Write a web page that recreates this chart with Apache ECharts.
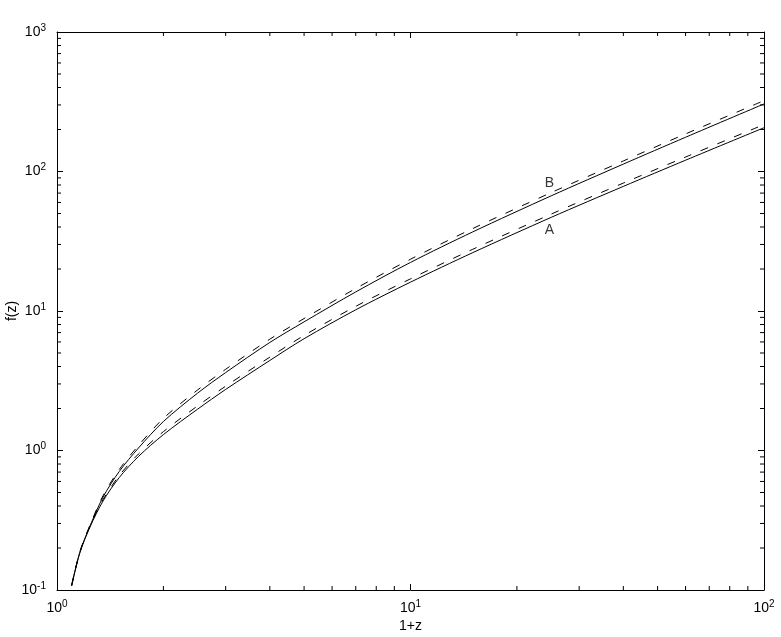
<!DOCTYPE html>
<html>
<head>
<meta charset="utf-8">
<script src="https://cdn.jsdelivr.net/npm/echarts@6/dist/echarts.min.js"></script>
<style>
  html, body { margin: 0; padding: 0; background: #fff; }
  #chart { width: 781px; height: 637px; }
</style>
</head>
<body>
<div id="chart"></div>
<script>
// 1+z sample points
const onePlusZ = [1.1, 1.16, 1.24, 1.35, 1.5, 1.7, 2.0, 2.5, 3.0, 4.0, 5.0, 7.0, 10, 15, 25, 40, 60, 100]

// f(z)
const aSolid  = [0.107, 0.184, 0.283, 0.435, 0.640, 0.906, 1.30, 1.98, 2.74, 4.42, 6.33, 10.2, 16.1, 26.2, 46.9, 78.2, 120.5, 206]
const aDashed = [0.107, 0.186, 0.288, 0.445, 0.662, 0.944, 1.366, 2.09, 2.89, 4.67, 6.68, 10.8, 17.0, 27.7, 49.5, 82.6, 127, 217]
const bSolid  = [0.108, 0.186, 0.288, 0.464, 0.707, 1.042, 1.614, 2.58, 3.62, 5.95, 8.36, 13.7, 22.3, 36.9, 66.9, 113, 176, 305]
const bDashed = [0.108, 0.187, 0.292, 0.475, 0.731, 1.086, 1.70, 2.72, 3.82, 6.28, 8.83, 14.5, 23.5, 39.0, 70.6, 119, 186, 322]

// curve labels
const curveNames = ['A', 'B']
const curveLabelX = [24.7, 24.7]
const curveLabelY = [38, 83]

// axis ranges and minor tick mantissas
const xDecades = [1, 10]
const yDecades = [0.1, 1, 10, 100]
const mantissas = [2, 3, 4, 5, 6, 7, 8, 9]

const xMinor = []
xDecades.forEach(d => mantissas.forEach(m => xMinor.push(d * m)))
const yMinor = []
yDecades.forEach(d => mantissas.forEach(m => yMinor.push(+(d * m).toPrecision(3))))

const FONT = '"Liberation Sans", Arial, Helvetica, sans-serif'

const pow10Label = v => '{b|10}{s|' + Math.round(Math.log10(v)) + '}'
const labelRich = {
    b: { fontSize: 14, fontFamily: FONT, color: '#000', lineHeight: 18 },
    s: { fontSize: 10, fontFamily: FONT, color: '#000', verticalAlign: 'top', lineHeight: 18, padding: [0, 0, 8, 0] }
}

const pair = (xs, ys) => xs.map((x, i) => [x, ys[i]])

const axisLine = { show: true, onZero: false, lineStyle: { color: '#000', width: 1 } }
const majorTick = { show: true, inside: true, length: 6, lineStyle: { color: '#000', width: 1 } }

const chart = echarts.init(document.getElementById('chart'))

const tickGroup = (lines) => ({
    type: 'group',
    children: lines.map(l => ({
        type: 'line',
        shape: l,
        style: { stroke: '#000', lineWidth: 1 }
    }))
})

const lineSeries = (name, data, dashed) => ({
    name: name,
    type: 'line',
    data: data,
    showSymbol: false,
    smooth: 0.3,
    silent: true,
    lineStyle: { color: '#000', width: 1, type: dashed ? [8, 10] : 'solid' }
})

chart.setOption({
    animation: false,
    backgroundColor: '#fff',
    grid: { left: 57, right: 17, top: 32, bottom: 47, containLabel: false, outerBoundsMode: 'none' },
    xAxis: [
        {
            type: 'log', logBase: 10, min: 1, max: 100,
            name: '1+z', nameLocation: 'middle', nameGap: 29, nameMoveOverlap: false,
            nameTextStyle: { fontSize: 14, fontFamily: FONT, color: '#000' },
            axisLine: axisLine, axisTick: majorTick,
            axisLabel: { formatter: pow10Label, rich: labelRich, margin: 9 },
            splitLine: { show: false }
        },
        {
            type: 'log', logBase: 10, min: 1, max: 100, position: 'top',
            axisLine: axisLine, axisTick: majorTick,
            axisLabel: { show: false }, splitLine: { show: false }
        }
    ],
    yAxis: [
        {
            type: 'log', logBase: 10, min: 0.1, max: 1000,
            name: 'f(z)', nameLocation: 'middle', nameGap: 38, nameRotate: 90, nameMoveOverlap: false,
            nameTextStyle: { fontSize: 14, fontFamily: FONT, color: '#000' },
            axisLine: axisLine, axisTick: majorTick,
            axisLabel: { formatter: pow10Label, rich: labelRich, margin: 11 },
            splitLine: { show: false }
        },
        {
            type: 'log', logBase: 10, min: 0.1, max: 1000, position: 'right',
            axisLine: axisLine, axisTick: majorTick,
            axisLabel: { show: false }, splitLine: { show: false }
        }
    ],
    series: [
        lineSeries('A', pair(onePlusZ, aSolid), false),
        lineSeries('A dashed', pair(onePlusZ, aDashed), true),
        lineSeries('B', pair(onePlusZ, bSolid), false),
        lineSeries('B dashed', pair(onePlusZ, bDashed), true),
        {
            // x minor ticks, bottom and top
            type: 'custom',
            silent: true,
            data: xMinor.map(v => [v, 1]),
            renderItem: (params, api) => {
                const cs = params.coordSys
                const x = api.coord([api.value(0), 1])[0]
                return tickGroup([
                    { x1: x, y1: cs.y + cs.height, x2: x, y2: cs.y + cs.height - 4 },
                    { x1: x, y1: cs.y, x2: x, y2: cs.y + 4 }
                ])
            }
        },
        {
            // y minor ticks, left and right
            type: 'custom',
            silent: true,
            data: yMinor.map(v => [2, v]),
            renderItem: (params, api) => {
                const cs = params.coordSys
                const y = api.coord([2, api.value(1)])[1]
                return tickGroup([
                    { x1: cs.x, y1: y, x2: cs.x + 4, y2: y },
                    { x1: cs.x + cs.width, y1: y, x2: cs.x + cs.width - 4, y2: y }
                ])
            }
        },
        {
            type: 'scatter',
            silent: true,
            symbolSize: 0,
            data: curveNames.map((n, i) => ({ name: n, value: [curveLabelX[i], curveLabelY[i]] })),
            label: {
                show: true, position: 'inside', formatter: '{b}',
                fontSize: 14, fontFamily: FONT, color: '#000'
            }
        }
    ]
})
</script>
</body>
</html>
